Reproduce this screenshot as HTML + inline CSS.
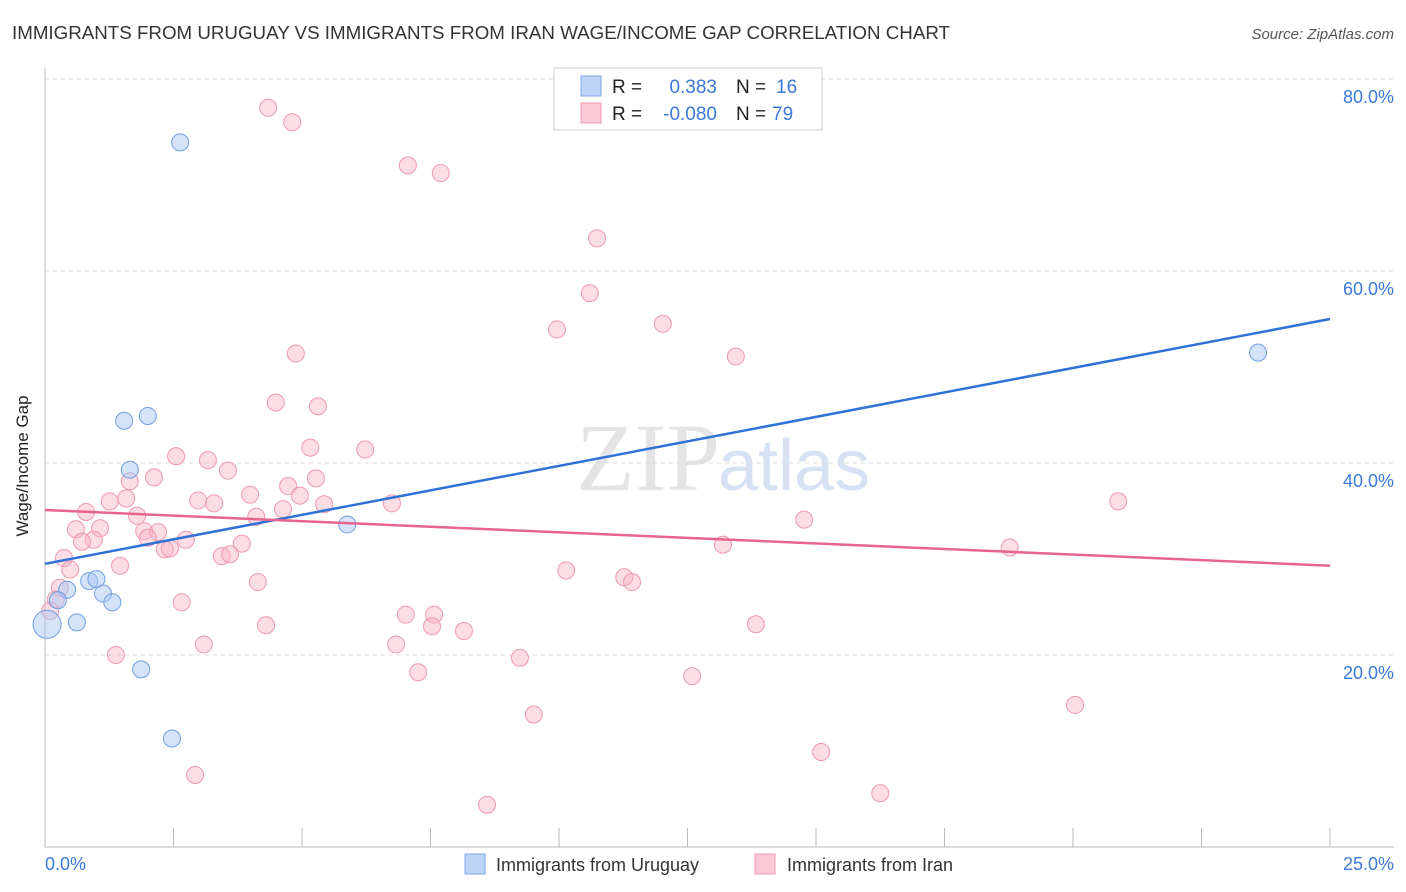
<!DOCTYPE html>
<html><head><meta charset="utf-8"><style>
body{margin:0;background:#fff;font-family:"Liberation Sans",sans-serif;}
svg{display:block}
</style></head><body>
<svg id="chart" width="1406" height="892" xmlns="http://www.w3.org/2000/svg">
<text x="12" y="39" font-size="18" fill="#333" textLength="938" lengthAdjust="spacingAndGlyphs">IMMIGRANTS FROM URUGUAY VS IMMIGRANTS FROM IRAN WAGE/INCOME GAP CORRELATION CHART</text>
<text x="1394" y="39" font-size="15" fill="#555" font-style="italic" text-anchor="end">Source: ZipAtlas.com</text>
<text x="720" y="490" font-size="96" font-family="Liberation Serif,serif" fill="#e4e4e4" text-anchor="end">ZIP</text>
<text x="718" y="490" font-size="72" fill="#d6e2f3">atlas</text>
<g id="grid"></g>
<line x1="45" y1="68" x2="45" y2="847" stroke="#bbb"/>
<line x1="45" y1="847" x2="1394" y2="847" stroke="#bbb"/>
<g id="xticks"></g>
<text x="18" y="456" font-size="17" fill="#222" transform="rotate(-90 28 456)" text-anchor="middle">Wage/Income Gap</text>
<text x="45" y="870" font-size="18" fill="#3b78d8">0.0%</text>
<text x="1394" y="870" font-size="18" fill="#3b78d8" text-anchor="end">25.0%</text>
<g id="pts"></g>
<g id="lines"></g>
<g>
<rect x="554" y="68" width="268" height="62" fill="#fff" stroke="#ccc"/>
<rect x="581" y="76" width="20" height="20" fill="#bcd4f6" stroke="#7ea8e6"/>
<rect x="581" y="103" width="20" height="20" fill="#fac8d6" stroke="#ee98b0"/>
<text x="612" y="93" font-size="19" fill="#222">R =</text>
<text x="717" y="93" font-size="19" fill="#3b78d8" text-anchor="end">0.383</text>
<text x="736" y="93" font-size="19" fill="#222">N =</text>
<text x="776" y="93" font-size="19" fill="#3b78d8">16</text>
<text x="612" y="120" font-size="19" fill="#222">R =</text>
<text x="717" y="120" font-size="19" fill="#3b78d8" text-anchor="end">-0.080</text>
<text x="736" y="120" font-size="19" fill="#222">N =</text>
<text x="772" y="120" font-size="19" fill="#3b78d8">79</text>
</g>
<g>
<rect x="465" y="854" width="20" height="20" fill="#bcd4f6" stroke="#7ea8e6"/>
<text x="496" y="871" font-size="18" fill="#333">Immigrants from Uruguay</text>
<rect x="755" y="854" width="20" height="20" fill="#fac8d6" stroke="#ee98b0"/>
<text x="787" y="871" font-size="18" fill="#333">Immigrants from Iran</text>
</g>
</svg>
<script>
const yTicks=[20,40,60,80];
const xTickVals=[2.5,5,7.5,10,12.5,15,17.5,20,22.5,25];
const uruguayX=[2.63,1.54,2.0,1.65,5.88,0.43,0.86,1.0,1.13,1.31,0.62,1.87,2.47,23.6,0.25,0.04];
const uruguayY=[73.4,44.4,44.9,39.3,33.6,26.8,27.7,27.9,26.4,25.5,23.4,18.5,11.3,51.5,25.7,23.2];
const iranX=[4.34,4.81,7.06,7.7,10.74,10.6,9.96,12.02,13.44,4.88,4.49,5.31,5.16,6.23,2.55,3.17,3.56,2.12,1.65,3.99,4.73,4.96,5.27,2.98,3.29,1.26,1.58,0.8,1.79,4.11,4.63,5.43,6.75,0.6,1.07,1.93,2.2,0.95,0.72,2.0,2.74,3.83,2.33,2.43,3.44,3.6,0.37,0.49,1.46,4.14,10.14,11.27,11.42,13.19,14.77,20.88,18.77,2.66,7.02,7.57,7.53,8.15,4.3,13.83,6.83,3.09,1.38,9.24,7.26,12.59,9.51,20.04,15.1,2.92,8.6,16.25,0.29,0.21,0.1];
const iranY=[77.0,75.5,71.0,70.2,63.4,57.7,53.9,54.5,51.1,51.4,46.3,45.9,41.6,41.4,40.7,40.3,39.2,38.5,38.1,36.7,37.6,36.6,38.4,36.1,35.8,36.0,36.3,34.9,34.5,34.4,35.2,35.7,35.8,33.1,33.2,32.9,32.8,32.0,31.8,32.2,32.0,31.6,31.0,31.1,30.3,30.5,30.1,28.9,29.3,27.6,28.8,28.1,27.6,31.5,34.1,36.0,31.2,25.5,24.2,24.2,23.0,22.5,23.1,23.2,21.1,21.1,20.0,19.7,18.2,17.8,13.8,14.8,9.9,7.5,4.4,5.6,27.0,25.8,24.6];
const trendU=[29.5,55.0];
const trendI=[35.1,29.3];
const xs=v=>45+v/25*1285, ys=v=>847-v/20*192;
const NS='http://www.w3.org/2000/svg';
function mk(tag,attrs,parent){const e=document.createElementNS(NS,tag);for(const k in attrs)e.setAttribute(k,attrs[k]);document.getElementById(parent).appendChild(e);return e;}
yTicks.forEach(t=>{
 const l=mk('line',{x1:45,x2:1394,y1:ys(t),y2:ys(t),stroke:'#ddd','stroke-dasharray':'4 4'},'grid');
 
 
 const tx=mk('text',{x:1394,y:ys(t)+24,'font-size':18,fill:'#3b78d8','text-anchor':'end'},'grid');
 tx.textContent=t.toFixed(1)+'%';
 
 
});
xTickVals.forEach(t=>{
 const l=mk('line',{x1:xs(t),x2:xs(t),y1:828,y2:847,stroke:'#bbb'},'xticks');
 
 
});
iranX.forEach((x,i)=>{
 const c=mk('circle',{cx:xs(x),cy:ys(iranY[i]),r:8.5,fill:'rgba(248,180,200,0.45)',stroke:'#ee98b0','stroke-width':1},'pts');
 
 
});
uruguayX.forEach((x,i)=>{
 const c=mk('circle',{cx:xs(x),cy:ys(uruguayY[i]),r:i==15?14:8.5,fill:'rgba(170,200,245,0.5)',stroke:'#6f9fe0','stroke-width':1},'pts');
 
 
});
const lu=mk('line',{x1:xs(0),y1:ys(trendU[0]),x2:xs(25),y2:ys(trendU[1]),stroke:'#2f72d6','stroke-width':2.5},'lines');


const li=mk('line',{x1:xs(0),y1:ys(trendI[0]),x2:xs(25),y2:ys(trendI[1]),stroke:'#e8648e','stroke-width':2.5},'lines');


</script>
</body></html>
